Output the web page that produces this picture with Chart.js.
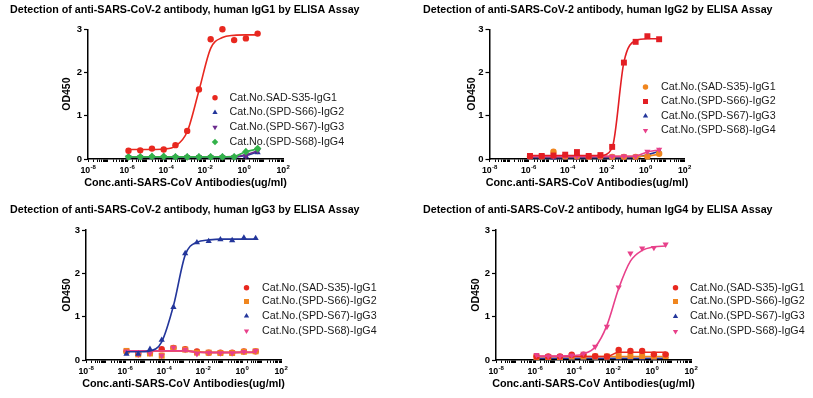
<!DOCTYPE html>
<html>
<head>
<meta charset="utf-8">
<script src="https://cdn.jsdelivr.net/npm/chart.js@4.4.1/dist/chart.umd.min.js"></script>
<style>
  body { margin: 0; background: #fff; width: 813px; height: 398px; overflow: hidden; position: relative; }
  .panel { position: absolute; width: 406px; height: 199px; }
</style>
</head>
<body>
<div class="panel" style="left:0;top:0"><canvas id="c1"></canvas></div>
<div class="panel" style="left:405px;top:0"><canvas id="c2"></canvas></div>
<div class="panel" style="left:0;top:200px"><canvas id="c3"></canvas></div>
<div class="panel" style="left:405px;top:200px"><canvas id="c4"></canvas></div>
<script>
// concentrations (ug/ml), 4-fold dilution series starting at 5
const conc = [0.0000011921, 0.0000047684, 0.000019073, 0.000076294, 0.00030518, 0.0012207,
              0.0048828, 0.019531, 0.078125, 0.3125, 1.25, 5];

// x axis labels (10 to the power of ...)
const xMajorValues = [1e-8, 1e-6, 1e-4, 1e-2, 1, 1e2];
const xMajorExps = ['-8', '-6', '-4', '-2', '0', '2'];
const yTicks = [0, 1, 2, 3];
const xTitle = 'Conc.anti-SARS-CoV Antibodies(ug/ml)';
const yTitle = 'OD450';

// panel 1 - IgG1
const p1IgG1 = [0.19, 0.20, 0.24, 0.22, 0.32, 0.65, 1.61, 2.77, 3.00, 2.75, 2.79, 2.90];
const p1IgG1Fit = [0.22, 0.22, 0.22, 0.23, 0.30, 0.63, 1.58, 2.56, 2.81, 2.86, 2.87, 2.87];
const p1IgG2 = [0.05, 0.05, 0.05, 0.06, 0.05, 0.05, 0.05, 0.05, 0.05, 0.05, 0.06, 0.15];
const p1IgG2Fit = [0.05, 0.05, 0.05, 0.05, 0.05, 0.05, 0.05, 0.05, 0.05, 0.05, 0.08, 0.16];
const p1IgG3 = [0.05, 0.05, 0.05, 0.05, 0.05, 0.05, 0.05, 0.05, 0.05, 0.05, 0.07, 0.19];
const p1IgG3Fit = [0.05, 0.05, 0.05, 0.05, 0.05, 0.05, 0.05, 0.05, 0.05, 0.05, 0.10, 0.19];
const p1IgG4 = [0.05, 0.05, 0.06, 0.06, 0.05, 0.05, 0.05, 0.05, 0.05, 0.05, 0.17, 0.24];
const p1IgG4Fit = [0.05, 0.05, 0.05, 0.05, 0.05, 0.05, 0.05, 0.05, 0.05, 0.06, 0.17, 0.23];

// panel 2 - IgG2
const p2IgG1 = [0.06, 0.06, 0.17, 0.06, 0.06, 0.05, 0.06, 0.05, 0.05, 0.05, 0.06, 0.12];
const p2IgG1Fit = [0.06, 0.06, 0.06, 0.06, 0.06, 0.06, 0.06, 0.06, 0.06, 0.06, 0.07, 0.11];
const p2IgG2 = [0.07, 0.07, 0.08, 0.10, 0.16, 0.07, 0.09, 0.28, 2.23, 2.71, 2.84, 2.77];
const p2IgG2Fit = [0.08, 0.08, 0.08, 0.08, 0.08, 0.08, 0.08, 0.26, 2.24, 2.74, 2.78, 2.78];
const p2IgG3 = [0.03, 0.03, 0.03, 0.03, 0.03, 0.03, 0.03, 0.03, 0.03, 0.03, 0.08, 0.18];
const p2IgG3Fit = [0.03, 0.03, 0.03, 0.03, 0.03, 0.03, 0.03, 0.03, 0.03, 0.04, 0.10, 0.18];
const p2IgG4 = [0.06, 0.07, 0.06, 0.07, 0.06, 0.06, 0.06, 0.06, 0.07, 0.06, 0.17, 0.22];
const p2IgG4Fit = [0.06, 0.06, 0.06, 0.06, 0.06, 0.06, 0.06, 0.06, 0.06, 0.07, 0.16, 0.21];

// panel 3 - IgG3
const p3IgG1 = [0.20, 0.15, 0.17, 0.25, 0.28, 0.25, 0.20, 0.17, 0.17, 0.17, 0.20, 0.20];
const p3IgG1Fit = [0.21, 0.21, 0.21, 0.21, 0.21, 0.21, 0.19, 0.18, 0.18, 0.18, 0.18, 0.18];
const p3IgG2 = [0.21, 0.13, 0.15, 0.10, 0.27, 0.24, 0.17, 0.17, 0.16, 0.16, 0.19, 0.20];
const p3IgG2Fit = [0.21, 0.21, 0.21, 0.21, 0.21, 0.21, 0.18, 0.17, 0.17, 0.17, 0.17, 0.17];
const p3IgG3 = [0.14, 0.14, 0.25, 0.46, 1.22, 2.46, 2.71, 2.74, 2.78, 2.76, 2.82, 2.81];
const p3IgG3Fit = [0.19, 0.19, 0.21, 0.42, 1.25, 2.42, 2.72, 2.77, 2.79, 2.79, 2.79, 2.79];
const p3IgG4 = [0.20, 0.13, 0.15, 0.10, 0.29, 0.24, 0.14, 0.17, 0.16, 0.16, 0.19, 0.21];
const p3IgG4Fit = [0.21, 0.21, 0.21, 0.21, 0.21, 0.21, 0.18, 0.17, 0.17, 0.17, 0.18, 0.18];

// panel 4 - IgG4
const p4IgG1 = [0.08, 0.08, 0.08, 0.12, 0.12, 0.09, 0.08, 0.23, 0.21, 0.21, 0.13, 0.13];
const p4IgG1Fit = [0.08, 0.08, 0.08, 0.08, 0.08, 0.08, 0.08, 0.18, 0.18, 0.18, 0.18, 0.18];
const p4IgG2 = [0.07, 0.07, 0.07, 0.08, 0.08, 0.08, 0.08, 0.09, 0.09, 0.09, 0.08, 0.09];
const p4IgG2Fit = [0.08, 0.08, 0.08, 0.08, 0.08, 0.08, 0.08, 0.08, 0.08, 0.08, 0.08, 0.08];
const p4IgG3 = [0.04, 0.04, 0.04, 0.04, 0.04, 0.04, 0.04, 0.05, 0.05, 0.05, 0.05, 0.09];
const p4IgG3Fit = [0.04, 0.04, 0.04, 0.04, 0.04, 0.04, 0.04, 0.04, 0.04, 0.04, 0.04, 0.04];
const p4IgG4 = [0.12, 0.09, 0.09, 0.11, 0.15, 0.31, 0.77, 1.68, 2.46, 2.58, 2.59, 2.67];
const p4IgG4Fit = [0.09, 0.09, 0.09, 0.10, 0.14, 0.30, 0.80, 1.65, 2.28, 2.53, 2.61, 2.63];

const FONT = 'Arial, "Liberation Sans", Helvetica, sans-serif';

const markers = {
  circle: { pointStyle: 'circle', r: 3.2, rot: 0 },
  square: { pointStyle: 'rect', r: 4.2, rot: 0 },
  triangle: { pointStyle: 'triangle', r: 3.6, rot: 0 },
  down: { pointStyle: 'triangle', r: 3.6, rot: 180 },
  diamond: { pointStyle: 'rectRot', r: 3.8, rot: 0 }
};

const toXY = vals => vals.map((v, i) => ({ x: conc[i], y: v }));

// chart title, x title, 10^n tick labels and the legend are drawn here,
// so they keep their natural width and free position
const decor = {
  id: 'decor',
  afterDraw(chart, args, opts) {
    const ctx = chart.ctx;
    const xs = chart.scales.x;
    const area = chart.chartArea;
    ctx.save();
    ctx.fillStyle = '#000';
    ctx.textBaseline = 'middle';

    ctx.font = 'bold 10.7px ' + FONT;
    ctx.textAlign = 'left';
    ctx.fillText(opts.title, opts.titleX, opts.titleY);

    ctx.font = 'bold 10.8px ' + FONT;
    ctx.textAlign = 'center';
    ctx.fillText(xTitle, (area.left + area.right) / 2, area.bottom + opts.xTitleGap);

    // 10^n labels
    xMajorValues.forEach((v, i) => {
      const px = xs.getPixelForValue(v);
      ctx.font = 'bold 8.8px ' + FONT;
      const wb = ctx.measureText('10').width;
      ctx.font = 'bold 6px ' + FONT;
      const we = ctx.measureText(xMajorExps[i]).width;
      const x0 = px - (wb + we) / 2;
      const yb = area.bottom + 13.5;
      ctx.textAlign = 'left';
      ctx.textBaseline = 'alphabetic';
      ctx.font = 'bold 8.8px ' + FONT;
      ctx.fillText('10', x0, yb);
      ctx.font = 'bold 6px ' + FONT;
      ctx.fillText(xMajorExps[i], x0 + wb + 0.3, yb - 4);
    });

    ctx.textBaseline = 'middle';
    ctx.textAlign = 'left';
    ctx.font = '10.7px ' + FONT;
    chart.data.datasets.filter(d => !d.isFit).forEach((d, i) => {
      const y = opts.rows[i];
      ctx.fillStyle = d.backgroundColor;
      if (Chart.helpers && Chart.helpers.drawPoint) {
        Chart.helpers.drawPoint(ctx, { pointStyle: d.pointStyle, radius: d.pointRadius * 0.85, rotation: d.pointRotation, borderWidth: 0 }, opts.markerX, y);
      } else {
        ctx.beginPath(); ctx.arc(opts.markerX, y, 2.5, 0, Math.PI * 2); ctx.fill();
      }
      ctx.fillStyle = '#1a1a1a';
      ctx.fillText(d.label, opts.textX, y);
    });
    ctx.restore();
  }
};

function makePanel(id, p) {
  const datasets = [];
  p.series.forEach(s => {
    const m = markers[s.marker];
    datasets.push({
      label: s.label, data: toXY(s.values), showLine: false,
      backgroundColor: s.color, borderColor: s.color, borderWidth: 0,
      pointStyle: m.pointStyle, pointRadius: m.r, pointRotation: m.rot,
      pointHoverRadius: m.r, order: s.z, clip: false
    });
  });
  p.series.forEach(s => {
    datasets.push({
      label: s.label + ' fit', isFit: true, data: toXY(s.fit), showLine: true,
      borderColor: s.color, backgroundColor: s.color, borderWidth: 1.6,
      pointRadius: 0, cubicInterpolationMode: 'monotone', fill: false,
      order: s.z + 0.5, clip: false
    });
  });

  new Chart(document.getElementById(id), {
    type: 'scatter',
    data: { datasets: datasets },
    options: {
      responsive: true,
      maintainAspectRatio: false,
      animation: false,
      events: [],
      layout: { padding: { left: p.padLeft, right: 406 - p.axisRight, top: p.plotTop, bottom: 0 } },
      plugins: {
        legend: { display: false },
        tooltip: { enabled: false },
        decor: {
          title: p.title, titleX: p.padLeft, titleY: 10,
          xTitleGap: 24, rows: p.rows, markerX: p.markerX, textX: p.textX
        }
      },
      scales: {
        x: {
          type: 'logarithmic', min: 1e-8, max: 1e2,
          afterFit: scale => { scale.height = p.xHeight; },
          afterBuildTicks: scale => {
            const t = [];
            for (let e = -8; e < 2; e++) for (let m = 1; m < 10; m++) t.push({ value: m * Math.pow(10, e) });
            t.push({ value: 100 });
            scale.ticks = t;
          },
          ticks: { autoSkip: false, maxRotation: 0, callback: () => '' },
          grid: { drawOnChartArea: false, tickLength: 3, tickColor: '#000', tickWidth: 1 },
          border: { color: '#000', width: 1.5 }
        },
        y: {
          min: 0, max: 3,
          afterFit: scale => { scale.width = p.axisLeft - p.padLeft; },
          afterBuildTicks: scale => { scale.ticks = yTicks.map(v => ({ value: v })); },
          ticks: { color: '#000', padding: 2, font: { family: FONT, size: 9.5, weight: 'bold' } },
          grid: { drawOnChartArea: false, tickLength: 4, tickColor: '#000', tickWidth: 1.2 },
          border: { color: '#000', width: 1.5 },
          title: {
            display: true, text: yTitle, color: '#000',
            font: { family: FONT, size: 10.5, weight: 'bold' },
            padding: { top: p.yTitleX - p.padLeft - 6.3, bottom: 0 }
          }
        }
      }
    },
    plugins: [decor]
  });
}

const RED = '#e8281f', ORANGE = '#f0861e', BLUE = '#23369b', PURPLE = '#6c2c8e', GREEN = '#33b24a', PINK = '#e8408a', SQRED = '#e31e24';

makePanel('c1', {
  title: 'Detection of anti-SARS-CoV-2 antibody, human IgG1 by ELISA Assay',
  padLeft: 10, axisLeft: 88, axisRight: 283, plotTop: 29.3, xHeight: 40, yTitleX: 67,
  rows: [97.7, 112.5, 127.3, 142], markerX: 215, textX: 229.5,
  series: [
    { label: 'Cat.No.SAD-S35-IgG1', color: RED, marker: 'circle', values: p1IgG1, fit: p1IgG1Fit, z: 0 },
    { label: 'Cat.No.(SPD-S66)-IgG2', color: BLUE, marker: 'triangle', values: p1IgG2, fit: p1IgG2Fit, z: 6 },
    { label: 'Cat.No.(SPD-S67)-IgG3', color: PURPLE, marker: 'down', values: p1IgG3, fit: p1IgG3Fit, z: 4 },
    { label: 'Cat.No.(SPD-S68)-IgG4', color: GREEN, marker: 'diamond', values: p1IgG4, fit: p1IgG4Fit, z: 2 }
  ]
});

makePanel('c2', {
  title: 'Detection of anti-SARS-CoV-2 antibody, human IgG2 by ELISA Assay',
  padLeft: 18, axisLeft: 84.5, axisRight: 279.5, plotTop: 29.3, xHeight: 40, yTitleX: 67,
  rows: [87, 101.5, 116, 130.5], markerX: 240.5, textX: 256,
  series: [
    { label: 'Cat.No.(SAD-S35)-IgG1', color: ORANGE, marker: 'circle', values: p2IgG1, fit: p2IgG1Fit, z: 4 },
    { label: 'Cat.No.(SPD-S66)-IgG2', color: SQRED, marker: 'square', values: p2IgG2, fit: p2IgG2Fit, z: 0 },
    { label: 'Cat.No.(SPD-S67)-IgG3', color: BLUE, marker: 'triangle', values: p2IgG3, fit: p2IgG3Fit, z: 6 },
    { label: 'Cat.No.(SPD-S68)-IgG4', color: PINK, marker: 'down', values: p2IgG4, fit: p2IgG4Fit, z: 2 }
  ]
});

makePanel('c3', {
  title: 'Detection of anti-SARS-CoV-2 antibody, human IgG3 by ELISA Assay',
  padLeft: 10, axisLeft: 86, axisRight: 281, plotTop: 30, xHeight: 39, yTitleX: 67,
  rows: [87.7, 101.5, 116, 131], markerX: 246.5, textX: 262,
  series: [
    { label: 'Cat.No.(SAD-S35)-IgG1', color: RED, marker: 'circle', values: p3IgG1, fit: p3IgG1Fit, z: 6 },
    { label: 'Cat.No.(SPD-S66)-IgG2', color: ORANGE, marker: 'square', values: p3IgG2, fit: p3IgG2Fit, z: 4 },
    { label: 'Cat.No.(SPD-S67)-IgG3', color: BLUE, marker: 'triangle', values: p3IgG3, fit: p3IgG3Fit, z: 0 },
    { label: 'Cat.No.(SPD-S68)-IgG4', color: PINK, marker: 'down', values: p3IgG4, fit: p3IgG4Fit, z: 2 }
  ]
});

makePanel('c4', {
  title: 'Detection of anti-SARS-CoV-2 antibody, human IgG4 by ELISA Assay',
  padLeft: 18, axisLeft: 91, axisRight: 286, plotTop: 30, xHeight: 39, yTitleX: 71.5,
  rows: [87.7, 101.5, 116.5, 131.5], markerX: 270.5, textX: 285,
  series: [
    { label: 'Cat.No.(SAD-S35)-IgG1', color: RED, marker: 'circle', values: p4IgG1, fit: p4IgG1Fit, z: 2 },
    { label: 'Cat.No.(SPD-S66)-IgG2', color: ORANGE, marker: 'square', values: p4IgG2, fit: p4IgG2Fit, z: 4 },
    { label: 'Cat.No.(SPD-S67)-IgG3', color: BLUE, marker: 'triangle', values: p4IgG3, fit: p4IgG3Fit, z: 6 },
    { label: 'Cat.No.(SPD-S68)-IgG4', color: PINK, marker: 'down', values: p4IgG4, fit: p4IgG4Fit, z: 0 }
  ]
});
</script>
</body>
</html>
